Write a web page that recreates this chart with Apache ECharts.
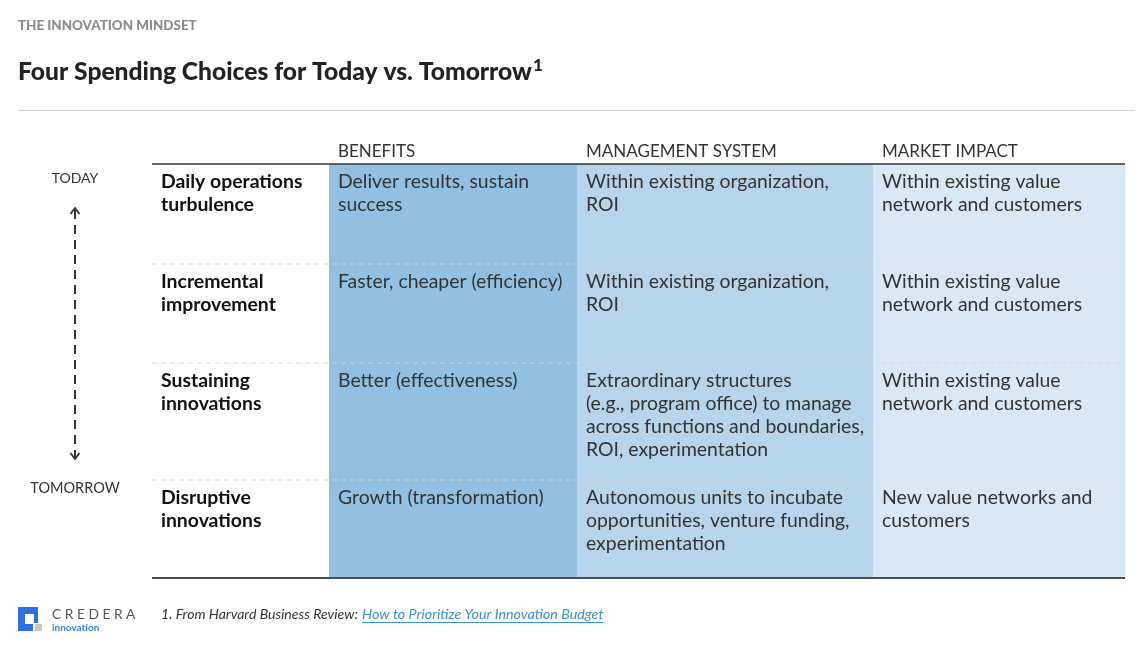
<!DOCTYPE html>
<html>
<head>
<meta charset="utf-8">
<script src="https://cdn.jsdelivr.net/npm/echarts@6/dist/echarts.min.js"></script>
<style>
  html, body { margin: 0; padding: 0; background: #fff; }
  #chart { width: 1148px; height: 645px; }
</style>
</head>
<body>
<div id="chart"></div>
<script>
// table content
var columnHeaders = ['', 'BENEFITS', 'MANAGEMENT SYSTEM', 'MARKET IMPACT'];
var rowLabels = [
  'Daily operations\nturbulence',
  'Incremental\nimprovement',
  'Sustaining\ninnovations',
  'Disruptive\ninnovations'
];
var benefits = [
  'Deliver results, sustain\nsuccess',
  'Faster, cheaper (efficiency)',
  'Better (effectiveness)',
  'Growth (transformation)'
];
var managementSystem = [
  'Within existing organization,\nROI',
  'Within existing organization,\nROI',
  'Extraordinary structures\n(e.g., program office) to manage\nacross functions and boundaries,\nROI, experimentation',
  'Autonomous units to incubate\nopportunities, venture funding,\nexperimentation'
];
var marketImpact = [
  'Within existing value\nnetwork and customers',
  'Within existing value\nnetwork and customers',
  'Within existing value\nnetwork and customers',
  'New value networks and\ncustomers'
];
var timeAxisLabels = ['TODAY', 'TOMORROW'];

// layout (px inside the table grid)
var colEdges = [0, 177, 425, 721, 973];
var rowEdges = [0, 100, 199, 316, 414];
var colColors = [null, '#93c0e0', '#b7d5ea', '#d9e8f5'];

var columnsText = [rowLabels, benefits, managementSystem, marketImpact];
var FONT = 'Lato, "Open Sans", sans-serif';

var cells = [];
for (var c = 0; c < 4; c++) {
  for (var r = 0; r < rowLabels.length; r++) {
    cells.push([c, r]);
  }
}

var chart = echarts.init(document.getElementById('chart'));

function cellBox(api, c, r) {
  var p0 = api.coord([colEdges[c], rowEdges[r]]);
  var p1 = api.coord([colEdges[c + 1], rowEdges[r + 1]]);
  return { x: p0[0], y: p0[1], w: p1[0] - p0[0], h: p1[1] - p0[1] };
}

var option = {
  animation: false,
  grid: { left: 152, top: 164, width: 973, height: 414 },
  xAxis: { type: 'value', min: 0, max: 973, show: false },
  yAxis: { type: 'value', min: 0, max: 414, inverse: true, show: false },
  series: [
    {
      // column backgrounds + cell text
      type: 'custom',
      data: cells,
      z: 2,
      renderItem: function (params, api) {
        var c = api.value(0), r = api.value(1);
        var b = cellBox(api, c, r);
        var children = [];
        if (colColors[c]) {
          children.push({
            type: 'rect',
            shape: { x: b.x, y: b.y, width: b.w + 0.5, height: b.h + 0.5 },
            style: { fill: colColors[c] }
          });
        }
        children.push({
          type: 'text',
          style: {
            x: b.x + 9, y: b.y + 6,
            text: columnsText[c][r],
            font: (c === 0 ? 'bold ' : '') + '19.4px ' + FONT,
            lineHeight: 23,
            fill: c === 0 ? '#111' : '#333',
            verticalAlign: 'top'
          }
        });
        if (r === 0 && columnHeaders[c]) {
          children.push({
            type: 'text',
            style: {
              x: b.x + 9, y: b.y - 12,
              text: columnHeaders[c],
              font: '17px ' + FONT,
              fill: '#333',
              verticalAlign: 'middle'
            }
          });
        }
        return { type: 'group', children: children };
      }
    },
    {
      // row rules
      type: 'custom',
      data: rowEdges.map(function (v, i) { return [i]; }),
      z: 3,
      renderItem: function (params, api) {
        var i = api.value(0);
        var a = api.coord([colEdges[0], rowEdges[i]]);
        var e = api.coord([colEdges[colEdges.length - 1], rowEdges[i]]);
        var last = i === rowEdges.length - 1;
        var style;
        if (i === 0) style = { stroke: '#333', lineWidth: 1.5 };
        else if (last) style = { stroke: '#4a4f55', lineWidth: 2 };
        else style = { stroke: 'rgba(215,215,215,0.85)', lineWidth: 1.2, lineDash: [5, 4] };
        return {
          type: 'line',
          shape: { x1: a[0], y1: a[1], x2: e[0], y2: e[1] },
          style: style
        };
      }
    }
  ],
  graphic: [
    { type: 'text', left: 18, top: 19, style: { text: 'THE INNOVATION MINDSET', font: '900 13.4px ' + FONT, fill: '#8c8c8c' } },
    {
      type: 'text', left: 18, top: 57,
      style: {
        text: '{t|Four Spending Choices for Today vs. Tomorrow}{s|1}',
        rich: {
          t: { font: '900 24.6px ' + FONT, fill: '#222', lineHeight: 31 },
          s: { font: '900 17px ' + FONT, fill: '#222', lineHeight: 31, verticalAlign: 'top', padding: [0, 0, 9, 1] }
        }
      }
    },
    { type: 'line', shape: { x1: 18, y1: 110.5, x2: 1135, y2: 110.5 }, style: { stroke: '#cfcfcf', lineWidth: 1 } },

    // today / tomorrow arrow
    { type: 'text', x: 75, y: 178, style: { text: timeAxisLabels[0], font: '14px ' + FONT, fill: '#333', align: 'center', verticalAlign: 'middle' } },
    { type: 'text', x: 75, y: 488, style: { text: timeAxisLabels[1], font: '14.5px ' + FONT, fill: '#333', align: 'center', verticalAlign: 'middle' } },
    { type: 'line', shape: { x1: 75, y1: 210, x2: 75, y2: 457 }, style: { stroke: '#333', lineWidth: 2, lineDash: [9, 6] } },
    { type: 'polyline', shape: { points: [[70.5, 214], [75, 208], [79.5, 214]] }, style: { stroke: '#333', lineWidth: 1.8, fill: null } },
    { type: 'polyline', shape: { points: [[70.5, 453], [75, 459], [79.5, 453]] }, style: { stroke: '#333', lineWidth: 1.8, fill: null } },

    // footer logo
    { type: 'rect', shape: { x: 18, y: 607, width: 20, height: 24 }, style: { fill: '#2f6fe0' } },
    { type: 'rect', shape: { x: 25, y: 614, width: 9, height: 10 }, style: { fill: '#fff' } },
    { type: 'rect', shape: { x: 33, y: 623, width: 10, height: 9 }, style: { fill: '#fff' } },
    { type: 'rect', shape: { x: 35, y: 624, width: 7, height: 7 }, style: { fill: '#c8c8c8' } },
    { type: 'text', left: 52, top: 608, style: { text: 'C R E D E R A', font: '13.8px ' + FONT, fill: '#555' } },
    { type: 'text', left: 52, top: 623, style: { text: 'innovation', font: 'bold 10px ' + FONT, fill: '#3a7fe0' } },

    // footnote
    { type: 'text', left: 161, top: 607, style: { text: '1. From Harvard Business Review:', font: 'italic 14.1px ' + FONT, fill: '#333' } },
    { type: 'text', left: 362, top: 607, style: { text: 'How to Prioritize Your Innovation Budget', font: 'italic 14.3px ' + FONT, fill: '#3d8fd6' } },
    { type: 'line', shape: { x1: 362, y1: 622.5, x2: 603, y2: 622.5 }, style: { stroke: '#3d8fd6', lineWidth: 1 } }
  ]
};
chart.setOption(option);
</script>
</body>
</html>
